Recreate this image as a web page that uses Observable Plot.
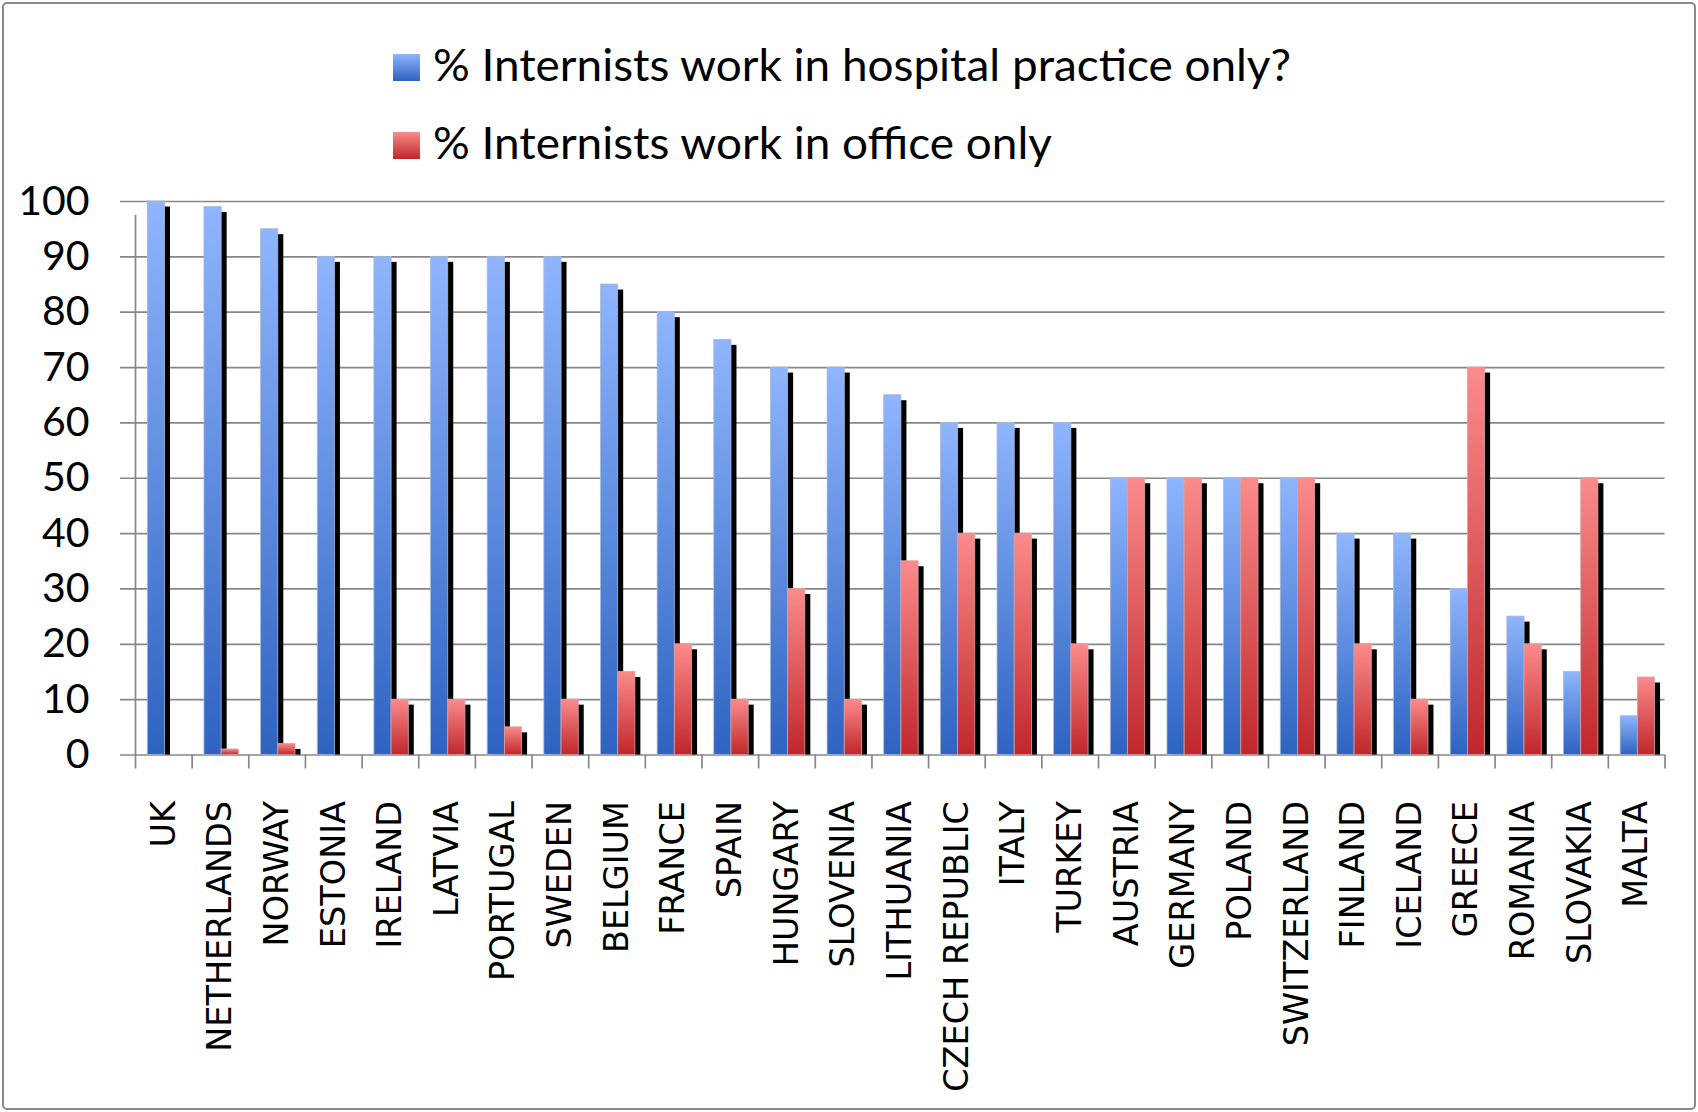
<!DOCTYPE html>
<html><head><meta charset="utf-8">
<script src="https://cdn.jsdelivr.net/npm/d3@7"></script>
<script src="https://cdn.jsdelivr.net/npm/@observablehq/plot@0.6"></script>
<style>
html,body{margin:0;padding:0;background:#fff;}
#frame{position:relative;width:1698px;height:1112px;overflow:hidden;background:#fff;}
#border{position:absolute;left:2px;top:2px;width:1690px;height:1104px;border:2px solid #8a8a8a;border-radius:5px;box-sizing:content-box;}
#legend{position:absolute;left:0;top:0;}
#chart{position:absolute;left:0;top:170px;}
</style>
</head><body>
<svg width="0" height="0" style="position:absolute">
  <defs>
    <linearGradient id="gBlue" x1="0" y1="0" x2="0" y2="1">
      <stop offset="0" stop-color="#8fb5fd"/>
      <stop offset="1" stop-color="#2e63c1"/>
    </linearGradient>
    <linearGradient id="gRed" x1="0" y1="0" x2="0" y2="1">
      <stop offset="0" stop-color="#fb8b8b"/>
      <stop offset="1" stop-color="#c0272b"/>
    </linearGradient>
  </defs>
</svg>
<div id="frame"><div id="border"></div><div id="legend"></div><div id="chart"></div></div>
<script>
const countries = ["UK","NETHERLANDS","NORWAY","ESTONIA","IRELAND","LATVIA","PORTUGAL","SWEDEN","BELGIUM","FRANCE","SPAIN","HUNGARY","SLOVENIA","LITHUANIA","CZECH REPUBLIC","ITALY","TURKEY","AUSTRIA","GERMANY","POLAND","SWITZERLAND","FINLAND","ICELAND","GREECE","ROMANIA","SLOVAKIA","MALTA"];
const hospital = [100,99,95,90,90,90,90,90,85,80,75,70,70,65,60,60,60,50,50,50,50,40,40,30,25,15,7];
const office   = [0,1,2,0,10,10,5,10,15,20,10,30,10,35,40,40,20,50,50,50,50,20,10,70,20,50,14];
const yTicks = [0,10,20,30,40,50,60,70,80,90,100];
const seriesNames = ["% Internists work in hospital practice only?","% Internists work in office only"];
const seriesFills = ["url(#gBlue)","url(#gRed)"];

// legend
(function(){
  const c = document.createElement("canvas").getContext("2d");
  const fam = 'Lato, "Liberation Sans", sans-serif';
  const fs = 44;
  c.font = `${fs}px ${fam}`;
  const k = 858 / c.measureText(seriesNames[0]).width;
  const svg = d3.select("#legend").append("svg").attr("width",1698).attr("height",170);
  const baselines = [81,159];
  seriesNames.forEach((n,i)=>{
    svg.append("rect").attr("x",393).attr("y",baselines[i]-27).attr("width",27).attr("height",27).attr("fill",seriesFills[i]);
    svg.append("text").attr("x",433).attr("y",baselines[i]).attr("font-family",fam).attr("font-size",fs)
      .attr("textLength", c.measureText(n).width * k).attr("lengthAdjust","spacingAndGlyphs")
      .attr("fill","#000").text(n);
  });
})();

const rows = countries.map((c,i)=>({country:c, hospital:hospital[i], office:office[i]}));
const W=1698, H=935, mL=135, mR=33.5, mT=31, mB=350.5;
const bw = (W-mL-mR)/countries.length;
const padL = 12.3, barW = 17.2, sh = 5.5;
const blueIn = {insetLeft: padL, insetRight: bw-padL-barW};
const redIn = {insetLeft: padL+barW, insetRight: bw-padL-2*barW};
const axisStroke = "#878787";

const chart = Plot.plot({
  width: W, height: H, marginLeft: mL, marginRight: mR, marginTop: mT, marginBottom: mB,
  x: {type: "band", domain: countries, padding: 0, round: false},
  y: {domain: [0,100]},
  style: {background: "transparent", fontFamily: "DejaVu Sans", color: "#000"},
  marks: [
    Plot.ruleY(yTicks, {y: d=>d, stroke: axisStroke, strokeWidth: 1.7, insetLeft: -15}),
    Plot.ruleX(countries, {x: d=>d, y1: 0, y2: 0, insetBottom: -14, dx: -bw/2, stroke: axisStroke, strokeWidth: 1.7}),
    Plot.ruleX([countries[countries.length-1]], {x: d=>d, y1: 0, y2: 0, insetBottom: -14, dx: bw/2, stroke: axisStroke, strokeWidth: 1.7}),
    Plot.ruleX([countries[0]], {x: d=>d, y1: 0, y2: 100, insetBottom: -14, dx: -bw/2, stroke: axisStroke, strokeWidth: 1.7}),
    Plot.barY(rows.filter(d=>d.hospital>0), {x: "country", y: "hospital", fill: "#000", ...blueIn, insetTop: sh, dx: sh}),
    Plot.barY(rows.filter(d=>d.office>0), {x: "country", y: "office", fill: "#000", ...redIn, insetTop: sh, dx: sh}),
    Plot.barY(rows.filter(d=>d.hospital>0), {x: "country", y: "hospital", fill: seriesFills[0], stroke: "#a9b9d6", strokeWidth: 0.8, ...blueIn}),
    Plot.barY(rows.filter(d=>d.office>0), {x: "country", y: "office", fill: seriesFills[1], stroke: "#d9a4a4", strokeWidth: 0.8, ...redIn}),
    Plot.axisY(yTicks, {tickSize: 0, tickPadding: 46, fontSize: 41, fontFamily: "Lato", label: null, fill: "#000"}),
    Plot.axisX({tickSize: 0, tickPadding: 46, tickRotate: -90, fontSize: 33.5, label: null, fill: "#000"})
  ]
});
document.getElementById("chart").appendChild(chart);
</script>
</body></html>
